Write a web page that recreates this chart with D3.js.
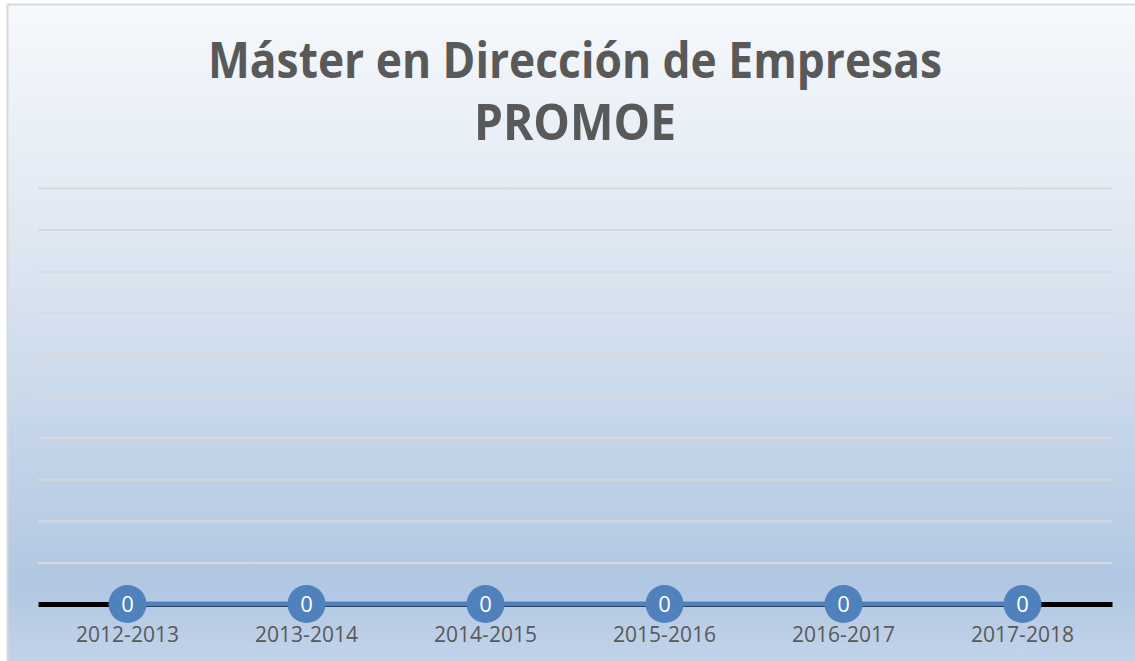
<!DOCTYPE html>
<html>
<head>
<meta charset="utf-8">
<script src="https://cdn.jsdelivr.net/npm/d3@7"></script>
<style>
  html, body { margin: 0; padding: 0; background: #ffffff; }
  svg { display: block; }
</style>
</head>
<body>
<div id="contents"></div>
<script>
// chart data
const categories = ["2012-2013", "2013-2014", "2014-2015", "2015-2016", "2016-2017", "2017-2018"];
const values = [0, 0, 0, 0, 0, 0];
const titleLines = ["Máster en Dirección de Empresas", "PROMOE"];

const W = 1135, H = 661;
const margin = {top: 188, right: 23, bottom: 57, left: 38},
    width = W - margin.left - margin.right,
    height = H - margin.top - margin.bottom;

const svg = d3.select("#contents").append("svg")
    .attr("width", W)
    .attr("height", H);

// background gradient
const grad = svg.append("defs").append("linearGradient")
    .attr("id", "bg")
    .attr("x1", 0).attr("y1", 0).attr("x2", 0).attr("y2", 1);
grad.append("stop").attr("offset", "0%").attr("stop-color", "#f6f9fc");
grad.append("stop").attr("offset", "40%").attr("stop-color", "#dbe5f1");
grad.append("stop").attr("offset", "88%").attr("stop-color", "#b1c7e2");
grad.append("stop").attr("offset", "100%").attr("stop-color", "#c3d4ea");

svg.append("rect")
    .attr("x", 7.5).attr("y", 4.5)
    .attr("width", W).attr("height", H)
    .attr("fill", "url(#bg)")
    .attr("stroke", "#d9d9d9")
    .attr("stroke-width", 2);

// title (condensed to mimic the original narrow face)
const titleWidths = [734, 202];
svg.append("g")
    .selectAll("text")
    .data(titleLines)
    .enter().append("text")
        .attr("x", 575)
        .attr("y", (d, i) => 78 + i * 62)
        .attr("text-anchor", "middle")
        .attr("textLength", (d, i) => titleWidths[i])
        .attr("lengthAdjust", "spacingAndGlyphs")
        .style("font-family", "'Open Sans', 'Noto Sans', sans-serif")
        .style("font-weight", "bold")
        .style("font-size", "50px")
        .style("fill", "#595959")
        .text(d => d);

const g = svg.append("g")
    .attr("transform", "translate(" + margin.left + "," + margin.top + ")");

const x = d3.scaleBand()
    .domain(categories)
    .range([0, width]);

const y = d3.scaleLinear()
    .domain([0, 10])
    .range([height + 0, 0]);

// gridlines
const yGrid = d3.axisLeft(y)
    .ticks(10)
    .tickSize(-width)
    .tickFormat("");

g.append("g")
    .attr("class", "grid")
    .call(yGrid)
    .call(s => s.select(".domain").remove())
    .call(s => s.selectAll("line")
        .attr("stroke", "#d9d9d9")
        .attr("stroke-width", 2)
        .filter(d => d === 0).remove());

// x axis
const xAxis = d3.axisBottom(x).tickSize(0).tickPadding(23);

g.append("g")
    .attr("class", "x axis")
    .attr("transform", "translate(0," + y(0) + ")")
    .call(xAxis)
    .call(s => s.select(".domain")
        .attr("stroke", "#000000")
        .attr("stroke-width", 5))
    .call(s => s.selectAll("text")
        .style("font-family", "'Open Sans', 'Noto Sans', sans-serif")
        .style("font-size", "21px")
        .style("fill", "#595959"));

// series line
const line = d3.line()
    .x((d, i) => x(categories[i]) + x.bandwidth() / 2)
    .y(d => y(d));

g.append("path")
    .datum(values)
    .attr("d", line)
    .attr("fill", "none")
    .attr("stroke", "#4f81bd")
    .attr("stroke-width", 5);

// markers and labels
const pts = g.selectAll("g.pt")
    .data(values)
    .enter().append("g")
        .attr("class", "pt")
        .attr("transform", (d, i) => "translate(" + (x(categories[i]) + x.bandwidth() / 2) + "," + y(d) + ")");

pts.append("circle")
    .attr("r", 19)
    .attr("fill", "#4f81bd");

pts.append("text")
    .attr("text-anchor", "middle")
    .attr("dy", "0.36em")
    .style("font-family", "'Open Sans', 'Noto Sans', sans-serif")
    .style("font-size", "22px")
    .style("fill", "#ffffff")
    .text(d => d);
</script>
</body>
</html>
